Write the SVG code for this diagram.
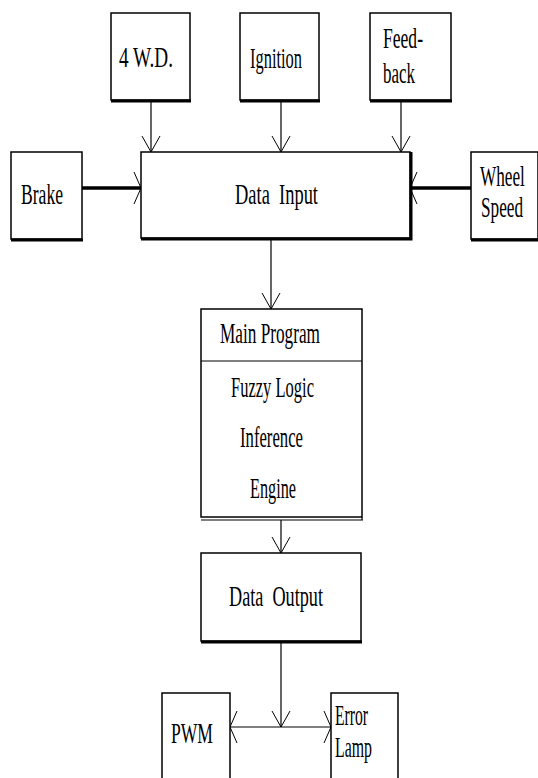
<svg xmlns="http://www.w3.org/2000/svg" width="538" height="778" viewBox="0 0 538 778">
<style>
.box{fill:#fff;stroke:#000;stroke-width:1.5}
.sh{fill:none;stroke:#000;stroke-width:3}
.t{font-family:"Liberation Serif","Times New Roman",serif;font-size:29px;fill:#000}
.ln{fill:none;stroke:#000;stroke-width:1.2}
.thk{fill:none;stroke:#000;stroke-width:3.5}
.head{fill:none;stroke:#000;stroke-width:1}
</style>
<defs>
<marker id="aV" markerUnits="userSpaceOnUse" markerWidth="40" markerHeight="40" refX="20" refY="20" orient="auto" viewBox="0 0 40 40">
<path d="M4,11 L20,20 L4,29" class="head"/>
</marker>
<marker id="aH" markerUnits="userSpaceOnUse" markerWidth="40" markerHeight="40" refX="20" refY="20" orient="auto" viewBox="0 0 40 40">
<path d="M13,4 L20,20 L13,36" class="head"/>
</marker>
</defs>
<rect width="538" height="778" fill="#fff"/>

<g id="connectors">
<line x1="151" y1="100" x2="151" y2="152" class="ln" marker-end="url(#aV)"/>
<line x1="281" y1="100" x2="281" y2="152" class="ln" marker-end="url(#aV)"/>
<line x1="401" y1="100" x2="401" y2="152" class="ln" marker-end="url(#aV)"/>
<line x1="82" y1="188" x2="141" y2="188" class="thk" marker-end="url(#aH)"/>
<line x1="471" y1="188" x2="410" y2="188" class="thk" marker-end="url(#aH)"/>
<line x1="271" y1="238" x2="271" y2="309" class="ln" marker-end="url(#aV)"/>
<line x1="281" y1="520" x2="281" y2="553" class="ln" marker-end="url(#aV)"/>
<line x1="281" y1="641" x2="281" y2="727" class="ln" marker-end="url(#aV)"/>
<line x1="281" y1="727" x2="230" y2="727" class="ln" marker-end="url(#aH)"/>
<line x1="281" y1="727" x2="331" y2="727" class="ln" marker-end="url(#aH)"/>
</g>

<g id="n4wd">
<rect x="111" y="13" width="79" height="87" class="box"/>
<line x1="111" y1="101" x2="191" y2="101" class="sh"/>
<text x="119" y="67" class="t" textLength="54" lengthAdjust="spacingAndGlyphs">4 W.D.</text>
</g>
<g id="ignition">
<rect x="240" y="13" width="79" height="87" class="box"/>
<line x1="240" y1="101" x2="320" y2="101" class="sh"/>
<text x="250" y="68" class="t" textLength="52" lengthAdjust="spacingAndGlyphs">Ignition</text>
</g>
<g id="feedback">
<rect x="370" y="13" width="81" height="87" class="box"/>
<line x1="370" y1="101" x2="452" y2="101" class="sh"/>
<text x="383" y="48" class="t" textLength="40" lengthAdjust="spacingAndGlyphs">Feed-</text>
<text x="383" y="83" class="t" textLength="32" lengthAdjust="spacingAndGlyphs">back</text>
</g>
<g id="brake">
<rect x="11" y="152" width="71" height="87" class="box"/>
<line x1="11" y1="240" x2="83" y2="240" class="sh"/>
<text x="21" y="204" class="t" textLength="42" lengthAdjust="spacingAndGlyphs">Brake</text>
</g>
<g id="datainput">
<rect x="141" y="152" width="269" height="86" class="box"/>
<polyline points="141,239 411,239 411,152" class="sh"/>
<text x="235" y="204" class="t" textLength="83" lengthAdjust="spacingAndGlyphs" xml:space="preserve">Data  Input</text>
</g>
<g id="wheelspeed">
<rect x="471" y="152" width="67" height="87" class="box"/>
<line x1="471" y1="240" x2="538" y2="240" class="sh"/>
<text transform="translate(480,186) scale(0.593,1)" class="t">Wheel</text>
<text transform="translate(481,217) scale(0.593,1)" class="t">Speed</text>
</g>
<g id="mainprogram">
<rect x="201" y="309" width="161" height="208" class="box"/>
<line x1="201" y1="361" x2="362" y2="361" class="ln" stroke-width="1.5"/>
<line x1="201" y1="520" x2="363" y2="520" class="ln" stroke-width="1.5"/>
<line x1="362" y1="517" x2="362" y2="520" class="ln" stroke-width="1.5"/>
<text x="220" y="343" class="t" textLength="100" lengthAdjust="spacingAndGlyphs">Main Program</text>
<text x="231" y="397" class="t" textLength="83" lengthAdjust="spacingAndGlyphs">Fuzzy Logic</text>
<text x="240" y="447" class="t" textLength="63" lengthAdjust="spacingAndGlyphs">Inference</text>
<text x="250" y="498" class="t" textLength="46" lengthAdjust="spacingAndGlyphs">Engine</text>
</g>
<g id="dataoutput">
<rect x="201" y="553" width="160" height="88" class="box"/>
<line x1="201" y1="642" x2="362" y2="642" class="sh"/>
<text x="229" y="606" class="t" textLength="94" lengthAdjust="spacingAndGlyphs" xml:space="preserve">Data  Output</text>
</g>
<g id="pwm">
<rect x="162" y="693" width="68" height="95" class="box"/>
<text x="171" y="743" class="t" textLength="42" lengthAdjust="spacingAndGlyphs">PWM</text>
</g>
<g id="errorlamp">
<rect x="331" y="693" width="67" height="95" class="box"/>
<text x="335" y="725" class="t" textLength="33" lengthAdjust="spacingAndGlyphs">Error</text>
<text x="335" y="757" class="t" textLength="37" lengthAdjust="spacingAndGlyphs">Lamp</text>
</g>
</svg>
